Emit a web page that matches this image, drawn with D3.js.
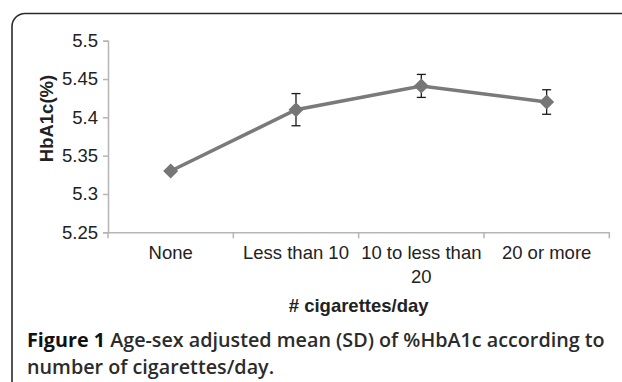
<!DOCTYPE html>
<html><head><meta charset="utf-8">
<script src="https://cdn.jsdelivr.net/npm/d3@7"></script>
<style>body{margin:0;background:#fff}svg{display:block}</style>
</head><body><svg id="c" width="622" height="382"></svg>
<script>
const categories = [["None"], ["Less than 10"], ["10 to less than", "20"], ["20 or more"]];
const meanValues = [5.33, 5.41, 5.441, 5.42];
const sdValues = [0.003, 0.021, 0.015, 0.016];
const yTicks = [5.25, 5.3, 5.35, 5.4, 5.45, 5.5];
const yTitle = "HbA1c(%)";
const xTitle = "# cigarettes/day";
const captionBold = "Figure 1";
const captionLine1 = " Age-sex adjusted mean (SD) of %HbA1c according to";
const captionLine2 = "number of cigarettes/day.";

(function () {
const svg = d3.select("#c");
const mLeft = 108, mRight = 609.3, mTop = 40.7, mBottom = 232.3;
const keys = categories.map((d, i) => i);
const x = d3.scaleBand().domain(keys).range([mLeft, mRight]);
const y = d3.scaleLinear().domain([5.25, 5.5]).range([mBottom, mTop]);

// frame
svg.append("rect").attr("x", 12).attr("y", 13.5).attr("width", 640).attr("height", 420)
  .attr("rx", 13).attr("fill", "none").attr("stroke", "#2a2a2a").attr("stroke-width", 1.6);

const axisColor = "#b5b5b5";
const font = "'Liberation Sans', Arial, sans-serif";
const fsz = 18.5;

// y axis
const ya = svg.append("g").attr("transform", `translate(${mLeft},0)`)
  .call(d3.axisLeft(y).tickValues(yTicks).tickFormat(d => String(+d.toFixed(2))).tickSize(5).tickPadding(5));
ya.select(".domain").attr("stroke", axisColor).attr("stroke-width", 1.5);
ya.selectAll(".tick line").attr("stroke", axisColor).attr("stroke-width", 1.5);
ya.selectAll(".tick text").attr("font-family", font).attr("font-size", fsz).attr("fill", "#222");

// x axis
const xa = svg.append("g").attr("transform", `translate(0,${mBottom})`)
  .call(d3.axisBottom(x).tickSize(0).tickFormat(""));
xa.select(".domain").attr("stroke", axisColor).attr("stroke-width", 1.5);
const bounds = keys.map(k => x(k)).concat([x(keys[keys.length - 1]) + x.bandwidth()]);
xa.selectAll(".bt").data(bounds).join("line").attr("class", "bt")
  .attr("x1", d => d).attr("x2", d => d).attr("y1", 0).attr("y2", 6)
  .attr("stroke", axisColor).attr("stroke-width", 1.5);
const xl = svg.append("g");
categories.forEach((lines, i) => {
  const t = xl.append("text").attr("x", x(i) + x.bandwidth() / 2).attr("y", 259)
    .attr("text-anchor", "middle").attr("font-family", font).attr("font-size", fsz).attr("fill", "#222");
  lines.forEach((ln, j) => t.append("tspan").attr("x", x(i) + x.bandwidth() / 2).attr("dy", j ? 24 : 0).text(ln));
});

// titles
svg.append("text").attr("transform", `translate(52.5,118.5) rotate(-90)`).attr("text-anchor", "middle")
  .attr("font-family", font).attr("font-weight", "bold").attr("font-size", fsz).attr("fill", "#222").text(yTitle);
svg.append("text").attr("x", (mLeft + mRight) / 2).attr("y", 311.5).attr("text-anchor", "middle")
  .attr("font-family", font).attr("font-weight", "bold").attr("font-size", fsz).attr("fill", "#222").text(xTitle);

// error bars
const cx = i => x(i) + x.bandwidth() / 2;
const eb = svg.append("g").attr("stroke", "#1a1a1a").attr("stroke-width", 1.3);
keys.forEach(i => {
  const y1 = y(meanValues[i] + sdValues[i]), y2 = y(meanValues[i] - sdValues[i]);
  eb.append("line").attr("x1", cx(i)).attr("x2", cx(i)).attr("y1", y1).attr("y2", y2);
  eb.append("line").attr("x1", cx(i) - 4.5).attr("x2", cx(i) + 4.5).attr("y1", y1).attr("y2", y1);
  eb.append("line").attr("x1", cx(i) - 4.5).attr("x2", cx(i) + 4.5).attr("y1", y2).attr("y2", y2);
});

// line
const line = d3.line().x(i => cx(i)).y(i => y(meanValues[i]));
svg.append("path").datum(keys).attr("d", line).attr("fill", "none")
  .attr("stroke", "#7a7a7a").attr("stroke-width", 3.5);
svg.selectAll(".mk").data(keys).join("path").attr("class", "mk")
  .attr("transform", i => `translate(${cx(i)},${y(meanValues[i])})`)
  .attr("d", "M0,-7.5L7.5,0L0,7.5L-7.5,0Z").attr("fill", "#767676");

// caption
const capFont = "'Open Sans', 'Noto Sans', sans-serif";
const c1 = svg.append("text").attr("x", 27).attr("y", 347).attr("font-family", capFont)
  .attr("font-size", 17).attr("fill", "#2b2b2b").attr("font-weight", 600);
c1.append("tspan").attr("font-weight", 700).attr("fill", "#111").text(captionBold);
c1.append("tspan").text(captionLine1);
const c2 = svg.append("text").attr("x", 27).attr("y", 374).attr("font-family", capFont)
  .attr("font-size", 17).attr("fill", "#2b2b2b").attr("font-weight", 600).text(captionLine2);
const w = c1.node().getComputedTextLength();
const fs = 17 * 578 / w;
c1.attr("font-size", fs); c2.attr("font-size", fs);
})();
</script></body></html>
